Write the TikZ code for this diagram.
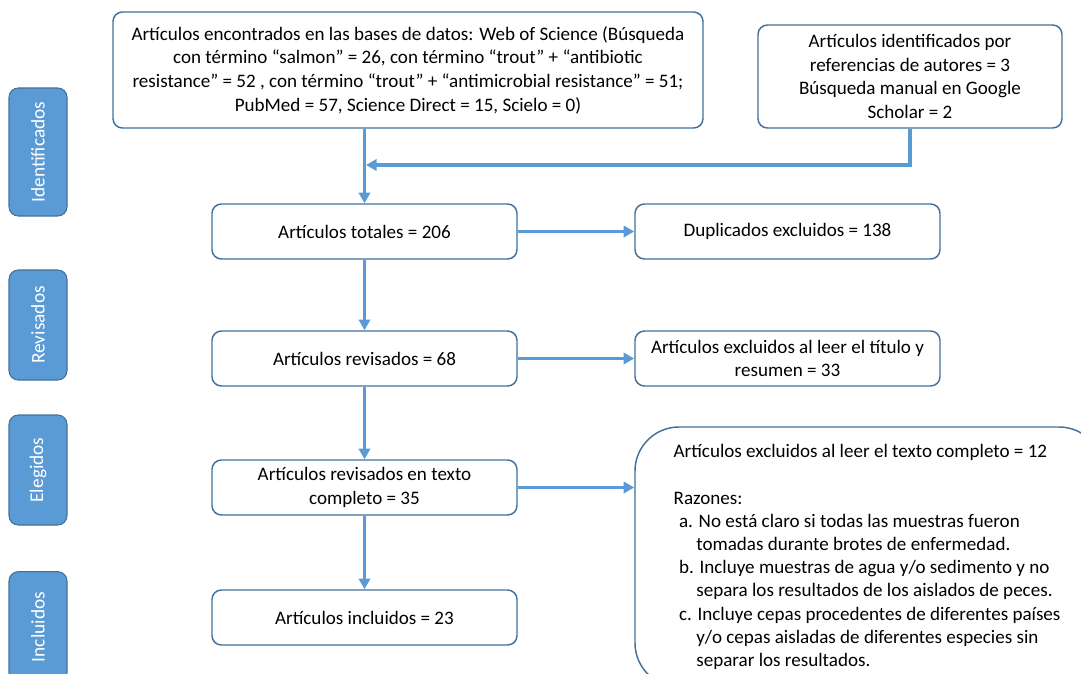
\documentclass[tikz,border=0pt]{standalone}
\usepackage{fontspec}
\setmainfont{Carlito}
\usetikzlibrary{arrows.meta}

\definecolor{boxline}{RGB}{65,113,156}
\definecolor{flowblue}{RGB}{91,155,213}

\tikzset{
    caja/.style={draw=boxline, line width=1.1pt, rounded corners=7pt, fill=white, align=center, inner sep=0pt,
        font=\fontsize{14.3}{17.8}\selectfont},
    pestana/.style={draw=boxline, line width=0.8pt, fill=flowblue, rounded corners=7pt, rotate=90,
        text=white, minimum height=43.5pt, inner sep=0pt, font=\fontsize{14.5}{16}\selectfont},
    flecha/.style={draw=flowblue, line width=2.4pt, -{Triangle[length=8pt,width=8.5pt]}}
}

\begin{document}
\begin{tikzpicture}[x=0.75pt,y=0.75pt,yscale=-1,xscale=1]
    \path[use as bounding box, clip] (0,0) rectangle (1081,674);

    % Tabs
    \node[pestana, minimum width=96pt] (tabident) at (38,152) {Identificados};
    \node[pestana, minimum width=82.5pt] (tabrev) at (38,325) {Revisados};
    \node[pestana, minimum width=82.5pt] (tabeleg) at (38,470) {Elegidos};
    \node[pestana, minimum width=83pt] (tabincl) at (38,627) {Incluidos};

    % Text Node
    \node[caja, minimum width=442.5pt, minimum height=87pt] (busqueda) at (408,70)
        {Artículos encontrados en las bases de datos: Web of Science (Búsqueda\\
        con término “salmon” = 26, con término “trout” + “antibiotic\\
        resistance” = 52 , con término “trout” + “antimicrobial resistance” = 51;\\
        PubMed = 57, Science Direct = 15, Scielo = 0)};
    % Text Node
    \node[caja, minimum width=228pt, minimum height=77.25pt] (refs) at (910,76.5)
        {Artículos identificados por\\
        referencias de autores = 3\\
        Búsqueda manual en Google\\
        Scholar = 2};
    % Text Node
    \node[caja, minimum width=228.75pt, minimum height=41.25pt] (totales) at (364.5,231.5)
        {Artículos totales = 206};
    % Text Node
    \node[caja, minimum width=228.75pt, minimum height=41.25pt] (duplicados) at (787.5,231.5)
        {Duplicados excluidos = 138};
    % Text Node
    \node[caja, minimum width=228.75pt, minimum height=41.25pt] (revisados) at (364.5,358.5)
        {Artículos revisados = 68};
    % Text Node
    \node[caja, minimum width=228.75pt, minimum height=41.25pt] (exclresumen) at (787.5,358.5)
        {Artículos excluidos al leer el título y\\
        resumen = 33};
    % Text Node
    \node[caja, minimum width=228.75pt, minimum height=41.25pt] (completo) at (364.5,487.5)
        {Artículos revisados en texto\\
        completo = 35};
    % Text Node
    \node[caja, minimum width=228.75pt, minimum height=41.25pt] (incluidos) at (364.5,617.5)
        {Artículos incluidos = 23};
    % Text Node
    \node[caja, rounded corners=33pt, align=flush left, text width=293pt, inner xsep=29pt,
        minimum height=195pt, font=\fontsize{14.3}{17.4}\selectfont] (exclcompleto) at (869,557)
        {Artículos excluidos al leer el texto completo = 12\\[17.4pt]
        Razones:\\
        \hspace*{4pt}a. No está claro si todas las muestras fueron\\
        \hspace*{17pt}tomadas durante brotes de enfermedad.\\
        \hspace*{4pt}b. Incluye muestras de agua y/o sedimento y no\\
        \hspace*{17pt}separa los resultados de los aislados de peces.\\
        \hspace*{4pt}c. Incluye cepas procedentes de diferentes países\\
        \hspace*{17pt}y/o cepas aisladas de diferentes especies sin\\
        \hspace*{17pt}separar los resultados.};

    % Arrows
    \coordinate (union) at (366,165);
    \draw[flecha] (busqueda.south -| totales.north) -- (totales.north);
    \draw[flecha] (refs.south) |- (union);
    \draw[flecha] (totales.east) -- (duplicados.west);
    \draw[flecha] (totales.south) -- (revisados.north);
    \draw[flecha] (revisados.east) -- (exclresumen.west);
    \draw[flecha] (revisados.south) -- (completo.north);
    \draw[flecha] (completo.east) -- (completo.east -| exclcompleto.west);
    \draw[flecha] (completo.south) -- (incluidos.north);

\end{tikzpicture}
\end{document}
